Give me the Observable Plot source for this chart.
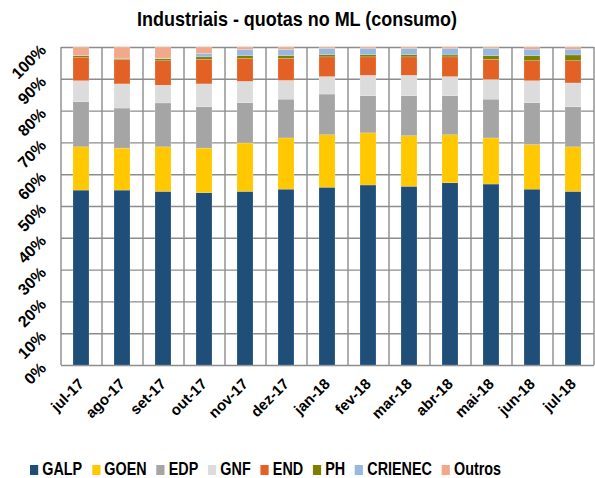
<!DOCTYPE html>
<html>
<head>
<meta charset="utf-8">
<script src="https://cdn.jsdelivr.net/npm/d3@7"></script>
<script src="https://cdn.jsdelivr.net/npm/@observablehq/plot@0.6"></script>
<style>
  body { margin: 0; background: #fff; }
  #wrap { position: relative; width: 595px; height: 478px; overflow: hidden; font-family: "Liberation Sans", Arial, sans-serif; }
  #title { position: absolute; left: 0; width: 595px; top: 7px; text-align: center; font-weight: bold; font-size: 21px; color: #000; }
  #title span { display: inline-block; transform: scaleX(0.855); }
  #chart { position: absolute; left: 0; top: 0; }
  #legend { position: absolute; left: 30px; top: 461px; height: 17px; line-height: 17px; display: flex; align-items: center; font-weight: bold; font-size: 17.5px; color: #000; white-space: nowrap; transform: scaleX(0.82); transform-origin: 0 50%; }
  .item { display: flex; align-items: center; margin-right: 12px; }
  .sw { width: 10px; height: 10px; margin-right: 5px; }
</style>
</head>
<body>
<div id="wrap">
  <div id="chart"></div>
  <div id="title"><span>Industriais - quotas no ML (consumo)</span></div>
  <div id="legend"></div>
</div>
<script>
const months = ["jul-17","ago-17","set-17","out-17","nov-17","dez-17","jan-18","fev-18","mar-18","abr-18","mai-18","jun-18","jul-18"];
const series = ["GALP","GOEN","EDP","GNF","END","PH","CRIENEC","Outros"];
const colors = ["#1F4E79","#FFC800","#A5A5A5","#DCDCDC","#E46125","#808000","#95B9E0","#F2A98B"];

const GALP    = [55.0, 55.0, 54.6, 54.2, 54.6, 55.3, 55.9, 56.6, 56.2, 57.3, 56.9, 55.3, 54.6];
const GOEN    = [13.6, 13.2, 14.0, 14.0, 15.2, 16.1, 16.5, 16.4, 15.9, 15.1, 14.5, 14.0, 14.0];
const EDP     = [14.2, 12.6, 13.8, 13.0, 12.7, 12.2, 12.8, 11.7, 12.6, 12.3, 12.2, 13.2, 12.6];
const GNF     = [ 6.6,  7.6,  5.6,  7.2,  6.7,  5.9,  5.5,  6.4,  6.4,  6.0,  6.2,  6.9,  7.5];
const END     = [ 7.4,  7.7,  7.7,  7.7,  7.2,  6.9,  6.2,  5.8,  5.8,  6.2,  6.3,  6.3,  7.0];
const PH      = [ 0.5,  0.3,  0.6,  0.8,  0.9,  0.9,  0.7,  0.7,  0.7,  0.6,  1.2,  1.6,  1.8];
const CRIENEC = [ 0.1,  0.1,  0.2,  1.1,  1.9,  1.9,  1.9,  1.9,  1.9,  2.0,  2.2,  2.0,  1.8];
const Outros  = [ 2.6,  3.5,  3.5,  2.0,  0.8,  0.8,  0.5,  0.5,  0.5,  0.5,  0.5,  0.7,  0.7];
const yTicks  = [0,10,20,30,40,50,60,70,80,90,100];

const seriesValues = {GALP, GOEN, EDP, GNF, END, PH, CRIENEC, Outros};
const data = [];
series.forEach(s => months.forEach((m, i) => data.push({month: m, series: s, value: seriesValues[s][i]})));

const gridColor = "#8c8c8c";

const baseOptions = {
  width: 595,
  height: 440,
  marginLeft: 61,
  marginRight: 1,
  marginTop: 47,
  marginBottom: 75,
  style: {fontFamily: '"Liberation Sans", Arial, sans-serif', fontWeight: "bold", fontSize: "15px", color: "#000", background: "#fff"},
  x: {domain: months, paddingInner: 0.6, paddingOuter: 0.3, label: null},
  y: {domain: [0, 100], label: null},
  color: {domain: series, range: colors}
};

const bars = Plot.barY(data, {x: "month", y: "value", fill: "series", order: series, stroke: "#fff", strokeOpacity: 0.35, strokeWidth: 0.5});

// first pass: read the band step from Plot's own x scale
const probe = Plot.plot({...baseOptions, marks: [bars]});
const step = probe.scale("x").step;

const plot = Plot.plot({
  ...baseOptions,
  marks: [
    Plot.ruleY(yTicks, {stroke: gridColor, strokeWidth: 1.4}),
    Plot.ruleX(months, {x: d => d, y1: 0, y2: 100, dx: -step / 2, stroke: gridColor, strokeWidth: 1.4}),
    Plot.ruleX(months.slice(-1), {x: d => d, y1: 0, y2: 100, dx: step / 2, stroke: gridColor, strokeWidth: 1.4}),
    bars,
    Plot.axisY(yTicks, {tickSize: 0, tickPadding: 18, tickRotate: -45, tickFormat: d => d + "%", fontSize: 16, fontWeight: "bold", label: null}),
    Plot.axisX({tickSize: 0, tickPadding: 16, tickRotate: -45, fontSize: 15, fontWeight: "bold", label: null})
  ]
});
document.getElementById("chart").appendChild(plot);

const legend = document.getElementById("legend");
series.forEach((s, i) => {
  const it = document.createElement("div");
  it.className = "item";
  const sw = document.createElement("div");
  sw.className = "sw";
  sw.style.background = colors[i];
  const t = document.createElement("span");
  t.textContent = s;
  it.appendChild(sw); it.appendChild(t);
  legend.appendChild(it);
});
</script>
</body>
</html>
